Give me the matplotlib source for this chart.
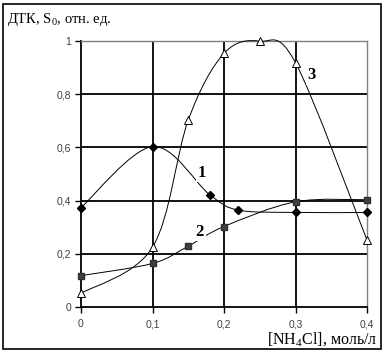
import matplotlib
matplotlib.use("Agg")
import matplotlib.pyplot as plt
from matplotlib.path import Path
from matplotlib.patches import PathPatch, Rectangle
import numpy as np

plt.rcParams['mathtext.fontset'] = 'custom'
plt.rcParams['mathtext.rm'] = 'Liberation Serif'

# data
x1 = [0.0, 0.1, 0.18, 0.22, 0.3, 0.4]
y1 = [0.373, 0.603, 0.422, 0.364, 0.355, 0.355]
x2 = [0.0, 0.1, 0.15, 0.2, 0.3, 0.4]
y2 = [0.117, 0.163, 0.228, 0.302, 0.395, 0.403]
x3 = [0.0, 0.1, 0.15, 0.2, 0.25, 0.3, 0.4]
y3 = [0.05, 0.224, 0.703, 0.954, 1.0, 0.919, 0.251]
xticks = [0, 0.1, 0.2, 0.3, 0.4]
xticklabels = ['0', '0,1', '0,2', '0,3', '0,4']
yticks = [0, 0.2, 0.4, 0.6, 0.8, 1.0]
yticklabels = ['0', '0,2', '0,4', '0,6', '0,8', '1']


def smooth_path(xs, ys):
    P = np.column_stack([xs, ys])
    n = len(P)
    verts = [P[0]]
    codes = [Path.MOVETO]
    for i in range(n - 1):
        p0 = P[i - 1] if i > 0 else P[i]
        p1 = P[i]
        p2 = P[i + 1]
        p3 = P[i + 2] if i + 2 < n else P[i + 1]
        c1 = p1 + (p2 - p0) / 6.0
        c2 = p2 - (p3 - p1) / 6.0
        verts += [c1, c2, p2]
        codes += [Path.CURVE4] * 3
    return Path(verts, codes)


W, H = 384, 353
fig = plt.figure(figsize=(W / 100, H / 100), dpi=100)
fig.patch.set_facecolor('white')
ax = fig.add_axes([81 / W, 1 - 306.7 / H, (367 - 81) / W, (306.7 - 41.2) / H])

ax.set_xlim(0, 0.4)
ax.set_ylim(0, 1.0)

# grid
for gx in [0.1, 0.2, 0.3]:
    ax.axvline(gx, color='black', lw=1.3, zorder=1)
for gy in [0.2, 0.4, 0.6, 0.8]:
    ax.axhline(gy, color='black', lw=1.3, zorder=1)

for s in ['top', 'right']:
    ax.spines[s].set_color('#808080')
    ax.spines[s].set_linewidth(1.0)
for s in ['left', 'bottom']:
    ax.spines[s].set_color('black')
    ax.spines[s].set_linewidth(1.3)

# curves
for xs, ys in [(x1, y1), (x2, y2), (x3, y3)]:
    ax.add_patch(PathPatch(smooth_path(xs, ys), fill=False, color='black',
                           lw=0.7, zorder=3, clip_on=False))

ax.plot(x1, y1, ls='none', marker='D', ms=4.5, mfc='black', mec='black', zorder=5, clip_on=False)
ax.plot(x2, y2, ls='none', marker='s', ms=4.5, mfc='#404040', mec='#303030', zorder=5, clip_on=False)
ax.plot(x3, y3, ls='none', marker='^', ms=6, mfc='white', mec='black', mew=0.7, zorder=5, clip_on=False)

lab = dict(fontsize=12, fontweight='bold', family='Liberation Serif', ha='center', va='center',
           zorder=4, bbox=dict(boxstyle='square,pad=0.1', fc='white', ec='none'))
ax.text(0.169, 0.505, '1', **lab)
ax.text(0.166, 0.282, '2', **lab)
ax.text(0.323, 0.873, '3', **lab)

ax.set_xticks(xticks)
ax.set_xticklabels(xticklabels)
ax.set_yticks(yticks)
ax.set_yticklabels(yticklabels)
ax.tick_params(axis='both', direction='out', length=4, width=1, colors='black',
               labelcolor='#404040', labelsize=7.5)
ax.tick_params(axis='x', pad=5)
ax.tick_params(axis='y', pad=3)
for lbl in ax.get_xticklabels() + ax.get_yticklabels():
    lbl.set_family('Liberation Sans')

fig.text(7 / W, 1 - 19 / H, 'ДТК, S$_0$, отн. ед.', family='Liberation Serif',
         fontsize=10.5, ha='left', va='center')
fig.text(377 / W, 1 - 340 / H, '[NH$_4$Cl], моль/л', family='Liberation Serif',
         fontsize=11.5, ha='right', va='center')

fig.add_artist(Rectangle((3 / W, 1 - 349 / H), (381 - 3) / W, (349 - 4) / H,
                         transform=fig.transFigure, fill=False, ec='black', lw=1.2))

fig.savefig('out.png', dpi=100, facecolor='white')
